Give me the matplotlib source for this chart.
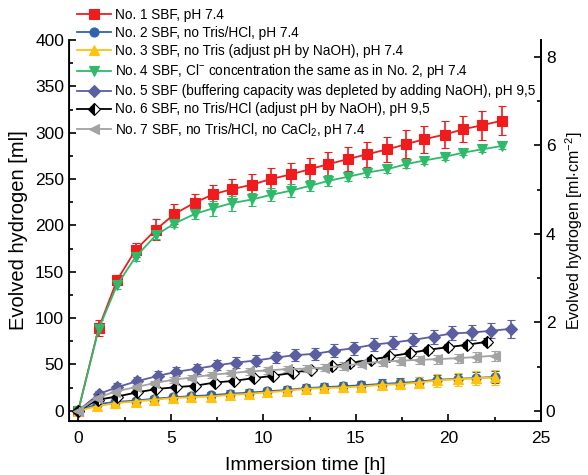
import matplotlib
matplotlib.use("Agg")
import matplotlib.pyplot as plt
from matplotlib.ticker import MultipleLocator

plt.rcParams['font.family'] = ['Liberation Sans', 'DejaVu Sans']
plt.rcParams['mathtext.default'] = 'regular'

# Immersion times [h] for each measurement series
t_main = [0, 1.1, 2.1, 3.1, 4.2, 5.2, 6.3, 7.3, 8.3, 9.4, 10.4, 11.5, 12.5,
          13.5, 14.6, 15.6, 16.7, 17.7, 18.7, 19.8, 20.8, 21.8, 22.9]
t_low = [0, 1.0, 2.0, 3.1, 4.1, 5.1, 6.1, 7.2, 8.2, 9.2, 10.2, 11.3, 12.3,
         13.3, 14.3, 15.3, 16.4, 17.4, 18.4, 19.4, 20.5, 21.5, 22.5]
t_no5 = [0, 1.1, 2.1, 3.2, 4.3, 5.3, 6.4, 7.5, 8.5, 9.6, 10.7, 11.7, 12.8,
         13.8, 14.9, 16.0, 17.0, 18.1, 19.2, 20.2, 21.3, 22.3, 23.4]
t_no6 = [0, 1.05, 2.1, 3.16, 4.21, 5.26, 6.31, 7.37, 8.42, 9.47, 10.5, 11.6,
         12.6, 13.7, 14.7, 15.8, 16.8, 17.9, 18.9, 20.0, 21.0, 22.1]

# Evolved hydrogen [ml] and standard deviations
no1 = [0, 89, 141, 173.5, 195.5, 212.3, 224.6, 233.6, 239, 244, 250, 255, 260.6,
       266, 271.7, 276.7, 282, 287.5, 293, 298, 303.7, 308, 313]
no1_err = [0, 8.6, 5, 8, 11, 10.6, 9.5, 9.9, 11.3, 11.7, 12, 12, 12.6, 12.9,
           13.1, 13.5, 13.8, 14.9, 14.6, 14.9, 14.2, 15.5, 15.3]
no2 = [0, 7, 9.5, 11, 13, 14.5, 15.8, 16.8, 18.5, 19.5, 21, 22.5, 24.5, 25.5,
       26.5, 27.5, 29, 30, 31.5, 33.5, 34.5, 35.5, 36.5]
no2_err = [0, 2, 2, 2.5, 2.5, 3, 3, 3, 3.5, 3.5, 3.5, 4, 4, 4, 4.5, 4.5, 5,
           5, 5, 5.5, 5.5, 6, 6]
no3 = [0, 4.7, 8.3, 10, 11.9, 13.7, 14.7, 15.4, 17.2, 18.3, 19.8, 21.6, 23.7,
       24.4, 25.2, 26.2, 28, 28.7, 30.5, 32.7, 34.1, 35.2, 36]
no3_err = [0, 2, 2, 2.5, 2.5, 3, 3, 3, 3.5, 3.5, 4, 4, 4.5, 4.5, 5, 5, 5.5,
           5.5, 6, 6.5, 7, 7.5, 8]
no4 = [0, 88, 135.8, 166, 189.5, 202, 212.4, 218.5, 224, 228, 232.9, 237.5,
       242.6, 248, 252.6, 257, 260.6, 266, 270, 274, 278.5, 282, 285.7]
no4_err = [0, 4, 4, 4, 4, 4, 5, 8, 8, 7, 7, 7, 6, 6, 5, 4.5, 4, 4, 3.5, 3.5,
           3, 3, 3]
no5 = [0, 18, 25.5, 32, 37.7, 42, 45.5, 49, 52, 54.2, 57.5, 60, 61.5, 64.7,
       67.6, 71.5, 73.6, 76.5, 80, 83.5, 84.5, 86.3, 88.5]
no5_err = [0, 3, 4, 4, 5, 5, 5.5, 5.5, 6, 6, 6, 6.5, 6.5, 7, 7, 7, 7, 7, 7.5,
           7.5, 8, 8, 9.5]
no6 = [0, 11.9, 15.4, 19.8, 23.4, 25.5, 27, 30.5, 32.3, 35.2, 37.7, 41, 44.5,
       47.8, 51.5, 55, 58.6, 62.2, 65.8, 68.7, 71.2, 74.5]
no6_err = [0, 1.5, 1.5, 2, 2, 2, 2, 2, 2.5, 2.5, 2.5, 2.5, 2.5, 3, 3, 3, 3,
           3, 3, 3, 3.5, 3.5]
no7 = [0, 13.7, 20.8, 25.5, 29.8, 33.4, 35.9, 38.8, 40.6, 42.4, 43.5, 45, 45.5,
       46.5, 48.5, 51, 53, 54, 55, 55.7, 56.8, 58, 59.5]
no7_err = [0, 2, 2, 2.5, 2.5, 3, 3, 3, 3, 3.5, 3.5, 3.5, 4, 4, 4, 4, 4.5,
           4.5, 4.5, 5, 5, 5.5, 5.5]

labels = [
    "No. 1 SBF, pH 7.4",
    "No. 2 SBF, no Tris/HCl, pH 7.4",
    "No. 3 SBF, no Tris (adjust pH by NaOH), pH 7.4",
    "No. 4 SBF, Cl$^{-}$ concentration the same as in No. 2, pH 7.4",
    "No. 5 SBF (buffering capacity was depleted by adding NaOH), pH 9,5",
    "No. 6 SBF, no Tris/HCl (adjust pH by NaOH), pH 9,5",
    "No. 7 SBF, no Tris/HCl, no CaCl$_2$, pH 7.4",
]

series = [
    (t_main, no1, no1_err, dict(color='#EE1C1C', marker='s', ms=6.5)),
    (t_low, no2, no2_err, dict(color='#2F62AC', marker='o', ms=6.5)),
    (t_low, no3, no3_err, dict(color='#FFC20E', marker='^', ms=7)),
    (t_main, no4, no4_err, dict(color='#2DBA6A', marker='v', ms=7)),
    (t_no5, no5, no5_err, dict(color='#5B5EA0', marker='D', ms=6)),
    (t_no6, no6, no6_err, dict(color='black', marker='D', ms=6,
                               fillstyle='left', markerfacecoloralt='white')),
    (t_low, no7, no7_err, dict(color='#A3A3A3', marker='<', ms=7)),
]

fig = plt.figure(figsize=(5.88, 4.75), dpi=100)
ax = fig.add_axes([0.1173, 0.1137, 0.8027, 0.8021])

handles = []
for (t, y, e, st), lab in zip(series, labels):
    extra = {}
    if 'fillstyle' in st:
        extra = dict(fillstyle=st['fillstyle'],
                     markerfacecoloralt=st['markerfacecoloralt'],
                     markerfacecolor='black', markeredgecolor='black')
    cont = ax.errorbar(t, y, yerr=e, color=st['color'], marker=st['marker'],
                       ms=st['ms'], lw=1.3, elinewidth=1.2, capsize=3,
                       capthick=1.2, mew=0.8, label=lab, **extra)
    handles.append(cont[0])

ax.set_xlim(-0.5, 25)
ax.set_ylim(-11, 400)
ax.xaxis.set_major_locator(MultipleLocator(5))
ax.xaxis.set_minor_locator(MultipleLocator(2.5))
ax.yaxis.set_major_locator(MultipleLocator(50))
ax.yaxis.set_minor_locator(MultipleLocator(25))
ax.tick_params(which='both', direction='in', labelsize=12.5, width=1.2)
ax.tick_params(which='major', length=5)
ax.tick_params(which='minor', length=3)
ax.tick_params(axis='x', pad=7)
ax.spines['top'].set_visible(False)
for s in ('left', 'bottom', 'right'):
    ax.spines[s].set_linewidth(1.3)
ax.set_xlabel("Immersion time [h]", fontsize=14, labelpad=8)
ax.set_ylabel("Evolved hydrogen [ml]", fontsize=14.5, labelpad=5)

ax2 = ax.twinx()
ax2.set_ylim(-0.226, 8.38)
ax2.yaxis.set_major_locator(MultipleLocator(2))
ax2.yaxis.set_minor_locator(MultipleLocator(1))
ax2.tick_params(which='both', direction='in', labelsize=12.5, width=1.2)
ax2.tick_params(which='major', length=5)
ax2.tick_params(which='minor', length=3)
ax2.spines['top'].set_visible(False)
ax2.spines['right'].set_linewidth(1.3)
ax2.set_ylabel("Evolved hydrogen [ml$\\cdot$cm$^{-2}$]", fontsize=11.5, labelpad=6)

fig.legend(handles, labels, loc='upper left', bbox_to_anchor=(0.131, 0.983),
           frameon=False, fontsize=9.8, handlelength=2.5, handletextpad=0.3,
           labelspacing=0.3, borderpad=0, borderaxespad=0)

fig.savefig("out.png", dpi=100)
